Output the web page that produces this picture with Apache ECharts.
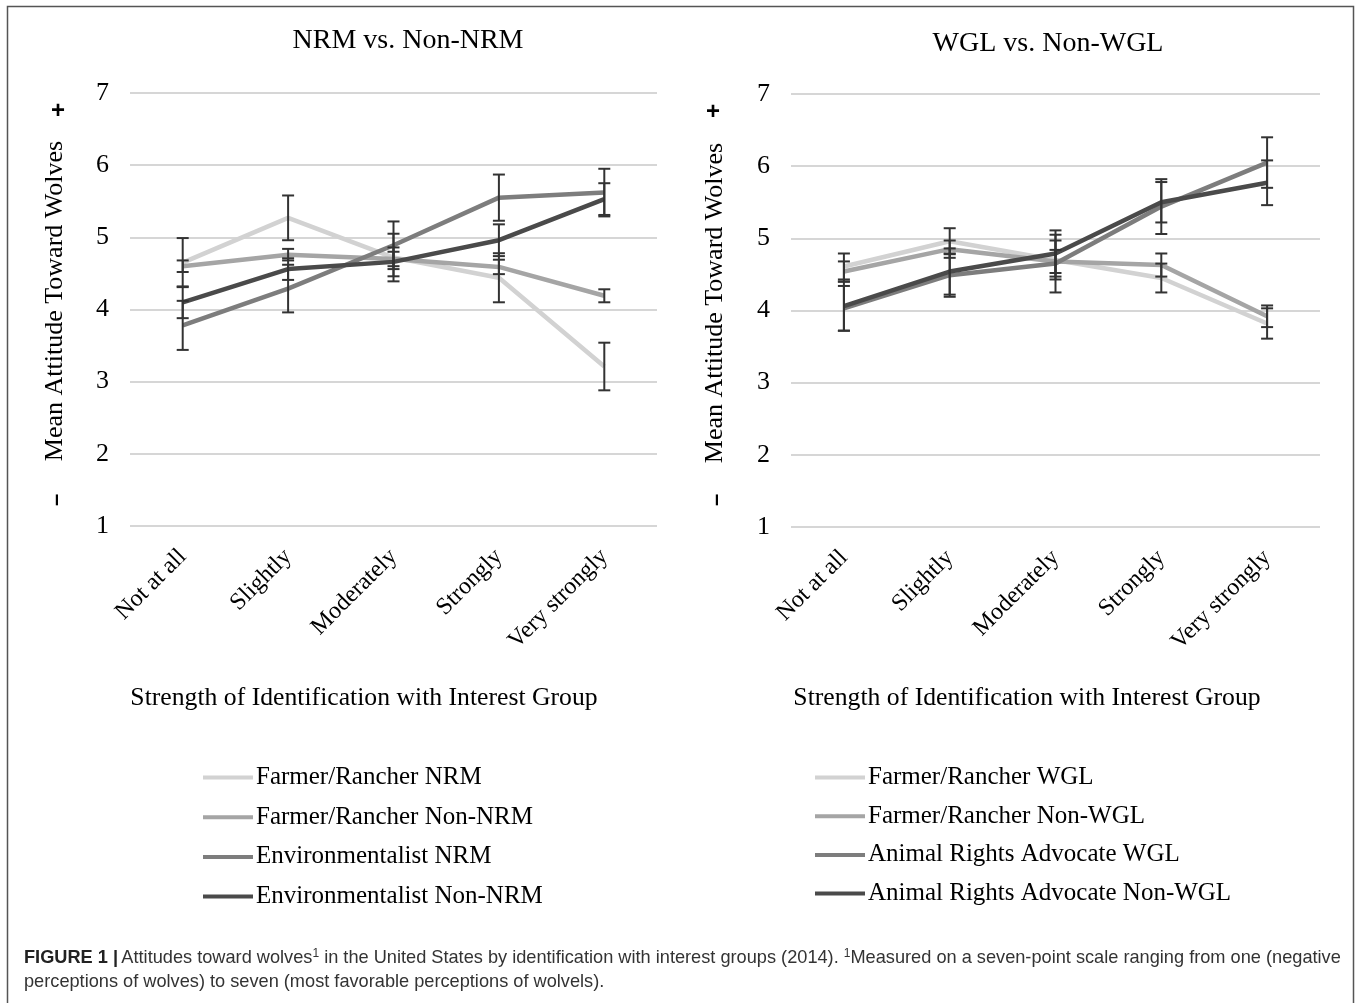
<!DOCTYPE html>
<html>
<head>
<meta charset="utf-8">
<script src="https://cdn.jsdelivr.net/npm/echarts@6/dist/echarts.min.js"></script>
<style>
html,body{margin:0;padding:0;background:#fff;}
#c{width:1356px;height:1003px;}
</style>
</head>
<body>
<div id="c"></div>
<script>
// ---- data ----
const categories = ['Not at all', 'Slightly', 'Moderately', 'Strongly', 'Very strongly'];
const yTicks = [1, 2, 3, 4, 5, 6, 7];

// Left panel: NRM vs. Non-NRM
const leftNames = ['Farmer/Rancher NRM', 'Farmer/Rancher Non-NRM', 'Environmentalist NRM', 'Environmentalist Non-NRM'];
const farmerNRM      = [4.65, 5.27, 4.72, 4.44, 3.21];
const farmerNonNRM   = [4.60, 4.76, 4.70, 4.59, 4.19];
const envNRM         = [3.78, 4.29, 4.89, 5.55, 5.62];
const envNonNRM      = [4.10, 4.56, 4.66, 4.96, 5.53];
const farmerNRMErr    = [0.34, 0.31, 0.33, 0.34, 0.33];
const farmerNonNRMErr = [0.08, 0.08, 0.10, 0.10, 0.09];
const envNRMErr       = [0.34, 0.33, 0.33, 0.32, 0.33];
const envNonNRMErr    = [0.22, 0.15, 0.20, 0.22, 0.22];

// Right panel: WGL vs. Non-WGL
const rightNames = ['Farmer/Rancher WGL', 'Farmer/Rancher Non-WGL', 'Animal Rights Advocate WGL', 'Animal Rights Advocate Non-WGL'];
const farmerWGL     = [4.61, 4.96, 4.70, 4.45, 3.82];
const farmerNonWGL  = [4.54, 4.85, 4.68, 4.63, 3.92];
const arWGL         = [4.03, 4.49, 4.65, 5.44, 6.05];
const arNonWGL      = [4.06, 4.54, 4.79, 5.50, 5.77];
const farmerWGLErr    = [0.18, 0.18, 0.27, 0.20, 0.21];
const farmerNonWGLErr = [0.14, 0.12, 0.16, 0.16, 0.15];
const arWGLErr        = [0.31, 0.30, 0.40, 0.38, 0.35];
const arNonWGLErr     = [0.34, 0.32, 0.32, 0.28, 0.31];

const colors = ['#d2d2d2', '#a5a5a5', '#7d7d7d', '#4a4a4a'];

// ---- chart ----
const chart = echarts.init(document.getElementById('c'), null, {renderer: 'canvas'});
const SERIF = "'Liberation Serif', 'DejaVu Serif', serif";
const SANS = "'Liberation Sans', Arial, sans-serif";

function lineSeries(name, data, color, idx) {
  return {
    type: 'line', name: name, data: data, xAxisIndex: idx, yAxisIndex: idx,
    color: color, symbol: 'none', lineStyle: {width: 4.5, color: color},
    z: 2, animation: false
  };
}
function errSeries(vals, errs, idx) {
  const d = vals.map((v, i) => [i, v - errs[i], v + errs[i]]);
  return {
    type: 'custom', xAxisIndex: idx, yAxisIndex: idx, data: d, z: 5, animation: false,
    silent: true,
    renderItem: function (params, api) {
      const lo = api.coord([api.value(0), api.value(1)]);
      const hi = api.coord([api.value(0), api.value(2)]);
      const hw = 6;
      const st = {stroke: '#333', lineWidth: 2};
      return {
        type: 'group',
        children: [
          {type: 'line', shape: {x1: lo[0], y1: lo[1], x2: hi[0], y2: hi[1]}, style: st},
          {type: 'line', shape: {x1: lo[0] - hw, y1: lo[1], x2: lo[0] + hw, y2: lo[1]}, style: st},
          {type: 'line', shape: {x1: hi[0] - hw, y1: hi[1], x2: hi[0] + hw, y2: hi[1]}, style: st}
        ]
      };
    }
  };
}

function xAxis(idx) {
  return {
    type: 'category', gridIndex: idx, data: categories, boundaryGap: true,
    axisLine: {show: false}, axisTick: {show: false},
    axisLabel: {rotate: 45, fontSize: 24, fontFamily: SERIF, color: '#000', margin: 27, interval: 0}
  };
}
function yAxis(idx) {
  return {
    type: 'value', gridIndex: idx, min: yTicks[0], max: yTicks[yTicks.length - 1], interval: 1,
    axisLine: {show: false}, axisTick: {show: false},
    axisLabel: {fontSize: 26, fontFamily: SERIF, color: '#000', margin: 21, padding: [3, 0, 0, 0]},
    splitLine: {lineStyle: {color: '#d6d6d6', width: 2}}
  };
}

const leftVals = [farmerNRM, farmerNonNRM, envNRM, envNonNRM];
const leftErrs = [farmerNRMErr, farmerNonNRMErr, envNRMErr, envNonNRMErr];
const rightVals = [farmerWGL, farmerNonWGL, arWGL, arNonWGL];
const rightErrs = [farmerWGLErr, farmerNonWGLErr, arWGLErr, arNonWGLErr];

const series = [];
leftVals.forEach((v, i) => series.push(lineSeries(leftNames[i], v, colors[i], 0)));
rightVals.forEach((v, i) => series.push(lineSeries(rightNames[i], v, colors[i], 1)));
leftVals.forEach((v, i) => series.push(errSeries(v, leftErrs[i], 0)));
rightVals.forEach((v, i) => series.push(errSeries(v, rightErrs[i], 1)));

function legend(names, left, top, gap) {
  return {
    data: names, orient: 'vertical', left: left, top: top, itemGap: gap, padding: 0,
    icon: 'rect', itemWidth: 50, itemHeight: 4, selectedMode: false,
    textStyle: {fontSize: 25, fontFamily: SERIF, color: '#000', lineHeight: 25, padding: [0, 0, 0, -2]}
  };
}

function txt(text, x, y, size, opts) {
  opts = opts || {};
  return {
    type: 'text', x: x, y: y, rotation: opts.rotation || 0, silent: true,
    style: {
      text: text, fontSize: size, fontFamily: opts.family || SERIF, fontWeight: opts.weight || 'normal',
      fill: opts.fill || '#000', align: opts.align || 'center', verticalAlign: 'middle'
    }
  };
}

const option = {
  backgroundColor: '#fff',
  animation: false,
  grid: [
    {left: 130, top: 93, width: 527, height: 433},
    {left: 791, top: 94, width: 529, height: 433}
  ],
  xAxis: [xAxis(0), xAxis(1)],
  yAxis: [yAxis(0), yAxis(1)],
  legend: [legend(leftNames, 203, 765, 14.7), legend(rightNames, 815, 765, 13.7)],
  series: series,
  graphic: [
    {type: 'rect', shape: {x: 7.5, y: 6.5, width: 1346, height: 1020}, style: {fill: 'none', stroke: '#555', lineWidth: 1.5}, silent: true},
    txt('NRM vs. Non-NRM', 408, 41, 28),
    txt('WGL vs. Non-WGL', 1048, 44, 28),
    txt('Mean Attitude Toward Wolves', 55, 301, 26, {rotation: Math.PI / 2}),
    txt('Mean Attitude Toward Wolves', 715, 303, 26, {rotation: Math.PI / 2}),
    txt('+', 58, 111, 24, {weight: 'bold', family: SANS}),
    txt('+', 713, 112, 24, {weight: 'bold', family: SANS}),
    txt('\u2013', 57, 500, 22, {rotation: Math.PI / 2, weight: 'bold', family: SANS}),
    txt('\u2013', 717, 500, 22, {rotation: Math.PI / 2, weight: 'bold', family: SANS}),
    txt('Strength of Identification with Interest Group', 364, 698, 25.7),
    txt('Strength of Identification with Interest Group', 1027, 698, 25.7),
    {
      type: 'text', x: 24, y: 958, silent: true,
      style: {
        text: '{b|FIGURE 1 |} {n|Attitudes toward wolves}{s|1}{n| in the United States by identification with interest groups (2014). }{s|1}{n|Measured on a seven-point scale ranging from one (negative}',
        verticalAlign: 'middle', align: 'left',
        rich: {
          b: {fontSize: 18.2, fontFamily: SANS, fontWeight: 'bold', fill: '#222', lineHeight: 20},
          n: {fontSize: 18.2, fontFamily: SANS, fill: '#333', lineHeight: 20},
          s: {fontSize: 12, fontFamily: SANS, fill: '#333', verticalAlign: 'top', lineHeight: 20}
        }
      }
    },
    txt('perceptions of wolves) to seven (most favorable perceptions of wolvels).', 24, 982, 18.2, {family: SANS, align: 'left', fill: '#333'})
  ]
};
chart.setOption(option);
</script>
</body>
</html>
